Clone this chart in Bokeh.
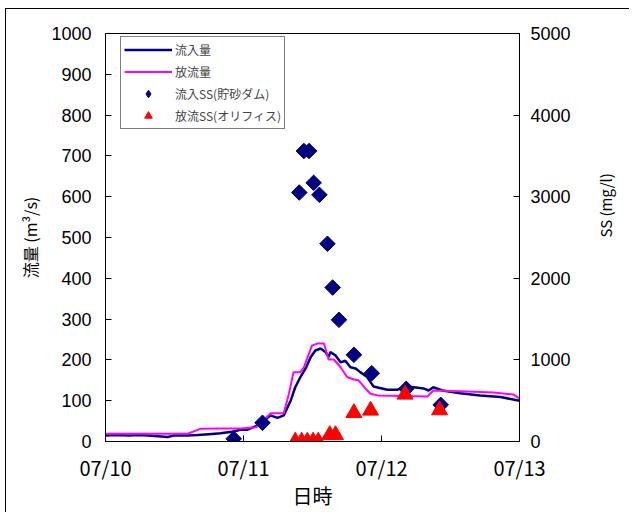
import math
from bokeh.plotting import figure
from bokeh.models import Range1d, LinearAxis, FixedTicker, Legend, LegendItem
from bokeh.embed import file_html
from bokeh.resources import INLINE

# ---- data ----
x_ticks = [0, 24, 48, 72]
x_tick_labels = ["07/10", "07/11", "07/12", "07/13"]

# hours since 07/10 00:00
inflow_h = [0, 2, 4, 6, 8, 10.8, 12, 14.3, 16, 18, 20, 22, 23.5, 24.7, 26.4, 28.7, 29.9, 31, 32.2, 33,
            33.9, 34.8, 35.7, 36.5, 37.4, 38.3, 38.8, 39.1, 40, 40.9, 41.7, 42.6, 43.5, 44.3, 45.5, 46.6,
            49.0, 50.8, 52.2, 53.6, 55.3, 56.2, 57.0, 58.6, 61.7, 65.2, 68.7, 72]
inflow_q = [15, 16, 15, 16, 14, 11, 15, 15, 16, 18, 20, 24, 29, 29, 39, 64, 58, 64, 100, 133,
            158, 179, 207, 223, 228, 219, 207, 219, 211, 194, 198, 182, 179, 170, 158, 135,
            127, 127, 135, 133, 130, 125, 133, 125, 118, 113, 109, 100]

outflow_h = [0, 14.3, 16.5, 20, 23.5, 26.2, 28.7, 31, 31.9, 32.7, 33.9, 34.5, 35.9, 36.8, 38, 38.8,
             39.7, 40.9, 42, 43.2, 44, 45.2, 46.1, 47.3, 56, 57, 61.7, 67.5, 71, 72]
outflow_q = [19, 19, 31, 32, 32, 35, 69, 69, 117, 170, 170, 182, 235, 240, 240, 201,
             201, 182, 158, 152, 150, 130, 117, 113, 110, 125, 123, 120, 115, 105]

ss_in_h = [22.3, 27.3, 33.7, 34.5, 35.4, 36.2, 37.2, 38.6, 39.5, 40.6, 43.2, 46.3, 52.3, 58.3]
ss_in = [33, 229, 3051, 3560, 3560, 3170, 3023, 2423, 1887, 1491, 1062, 837, 645, 449]

ss_out_h = [33.0, 34.1, 35.1, 36.1, 37.0, 39.0, 40.0, 43.2, 46.1, 52.1, 58.1]
ss_out = [0, 0, 0, 0, 0, 80, 80, 350, 380, 576, 384]

NAVY = "#000080"
MAGENTA = "#FF00FF"
RED = "#FF0000"
TICK_FONT = "Liberation Sans"
JP_FONT = "Noto Sans CJK JP"

p = figure(frame_width=414, frame_height=408, x_range=Range1d(0, 72), y_range=Range1d(0, 1000),
           output_backend="svg", toolbar_location=None,
           min_border_left=99, min_border_right=106, min_border_top=24, min_border_bottom=60)
p.extra_y_ranges = {"ss": Range1d(0, 5000)}
# outer chart-area border (only its left and top edges are inside the picture)
p.styles = {"margin-left": "5px", "margin-top": "8px",
            "border-left": "1px solid #000", "border-top": "1px solid #000"}

p.xgrid.visible = False
p.ygrid.visible = False
p.outline_line_color = "black"
p.outline_line_width = 1
p.background_fill_color = "white"
p.border_fill_color = "white"

r_in = p.line(inflow_h, inflow_q, line_color=NAVY, line_width=2.5)
r_out = p.line(outflow_h, outflow_q, line_color=MAGENTA, line_width=2)
p.scatter(ss_in_h, ss_in, y_range_name="ss", marker="square", angle=math.pi / 4,
          size=11, fill_color=NAVY, line_color=NAVY)
p.scatter(ss_out_h, ss_out, y_range_name="ss", marker="triangle",
          size=16, fill_color=RED, line_color=RED)

# legend-only proxies (not drawn in the plot area)
nan = float("nan")
lg_ssin = p.scatter(x=[nan], y=[nan], marker="diamond", size=15, fill_color=NAVY, line_color=NAVY)
lg_ssout = p.scatter(x=[nan], y=[nan], marker="triangle", size=12, fill_color=RED, line_color=RED)

# x axis
xa = p.xaxis[0]
xa.ticker = FixedTicker(ticks=x_ticks)
xa.major_label_overrides = {t: l for t, l in zip(x_ticks, x_tick_labels)}
xa.axis_label = "日時"

# left axis
ya = p.yaxis[0]
ya.ticker = FixedTicker(ticks=list(range(0, 1001, 100)))
ya.axis_label = "流量 (m³/s)"

# right axis (label reads bottom-to-top)
ra = LinearAxis(y_range_name="ss", ticker=FixedTicker(ticks=list(range(0, 5001, 1000))),
                axis_label="SS (mg/l)", axis_label_orientation=math.pi / 2)
p.add_layout(ra, "right")

for ax in (xa, ya, ra):
    ax.axis_line_color = "black"
    ax.major_tick_line_color = "black"
    ax.major_tick_in = 6
    ax.major_tick_out = 0
    ax.minor_tick_line_color = None
    ax.major_label_text_color = "black"
    ax.axis_label_text_color = "black"
    ax.axis_label_text_font_style = "normal"

xa.major_label_text_font = JP_FONT
xa.major_label_text_font_size = "20px"
xa.major_label_standoff = 11
xa.axis_label_text_font = JP_FONT
xa.axis_label_text_font_size = "20px"
xa.axis_label_standoff = -4

ya.major_label_text_font = TICK_FONT
ya.major_label_text_font_size = "18px"
ya.major_label_standoff = 14
ya.axis_label_text_font = JP_FONT
ya.axis_label_text_font_size = "16px"
ya.axis_label_standoff = 6

ra.major_label_text_font = TICK_FONT
ra.major_label_text_font_size = "18px"
ra.major_label_standoff = 11
ra.axis_label_text_font = JP_FONT
ra.axis_label_text_font_size = "15px"
ra.axis_label_standoff = 32

legend = Legend(items=[
    LegendItem(label="流入量", renderers=[r_in]),
    LegendItem(label="放流量", renderers=[r_out]),
    LegendItem(label="流入SS(貯砂ダム)", renderers=[lg_ssin]),
    LegendItem(label="放流SS(オリフィス)", renderers=[lg_ssout]),
], location=(15, 312))
legend.label_text_font = JP_FONT
legend.label_text_font_size = "12px"
legend.border_line_color = "black"
legend.border_line_width = 1
legend.background_fill_color = "white"
legend.background_fill_alpha = 1
legend.glyph_width = 48
legend.glyph_height = 19
legend.label_height = 19
legend.label_standoff = 3
legend.spacing = 3
legend.padding = 3
legend.margin = 0
p.add_layout(legend, "center")

open("out.html", "w").write(file_html(p, INLINE))
